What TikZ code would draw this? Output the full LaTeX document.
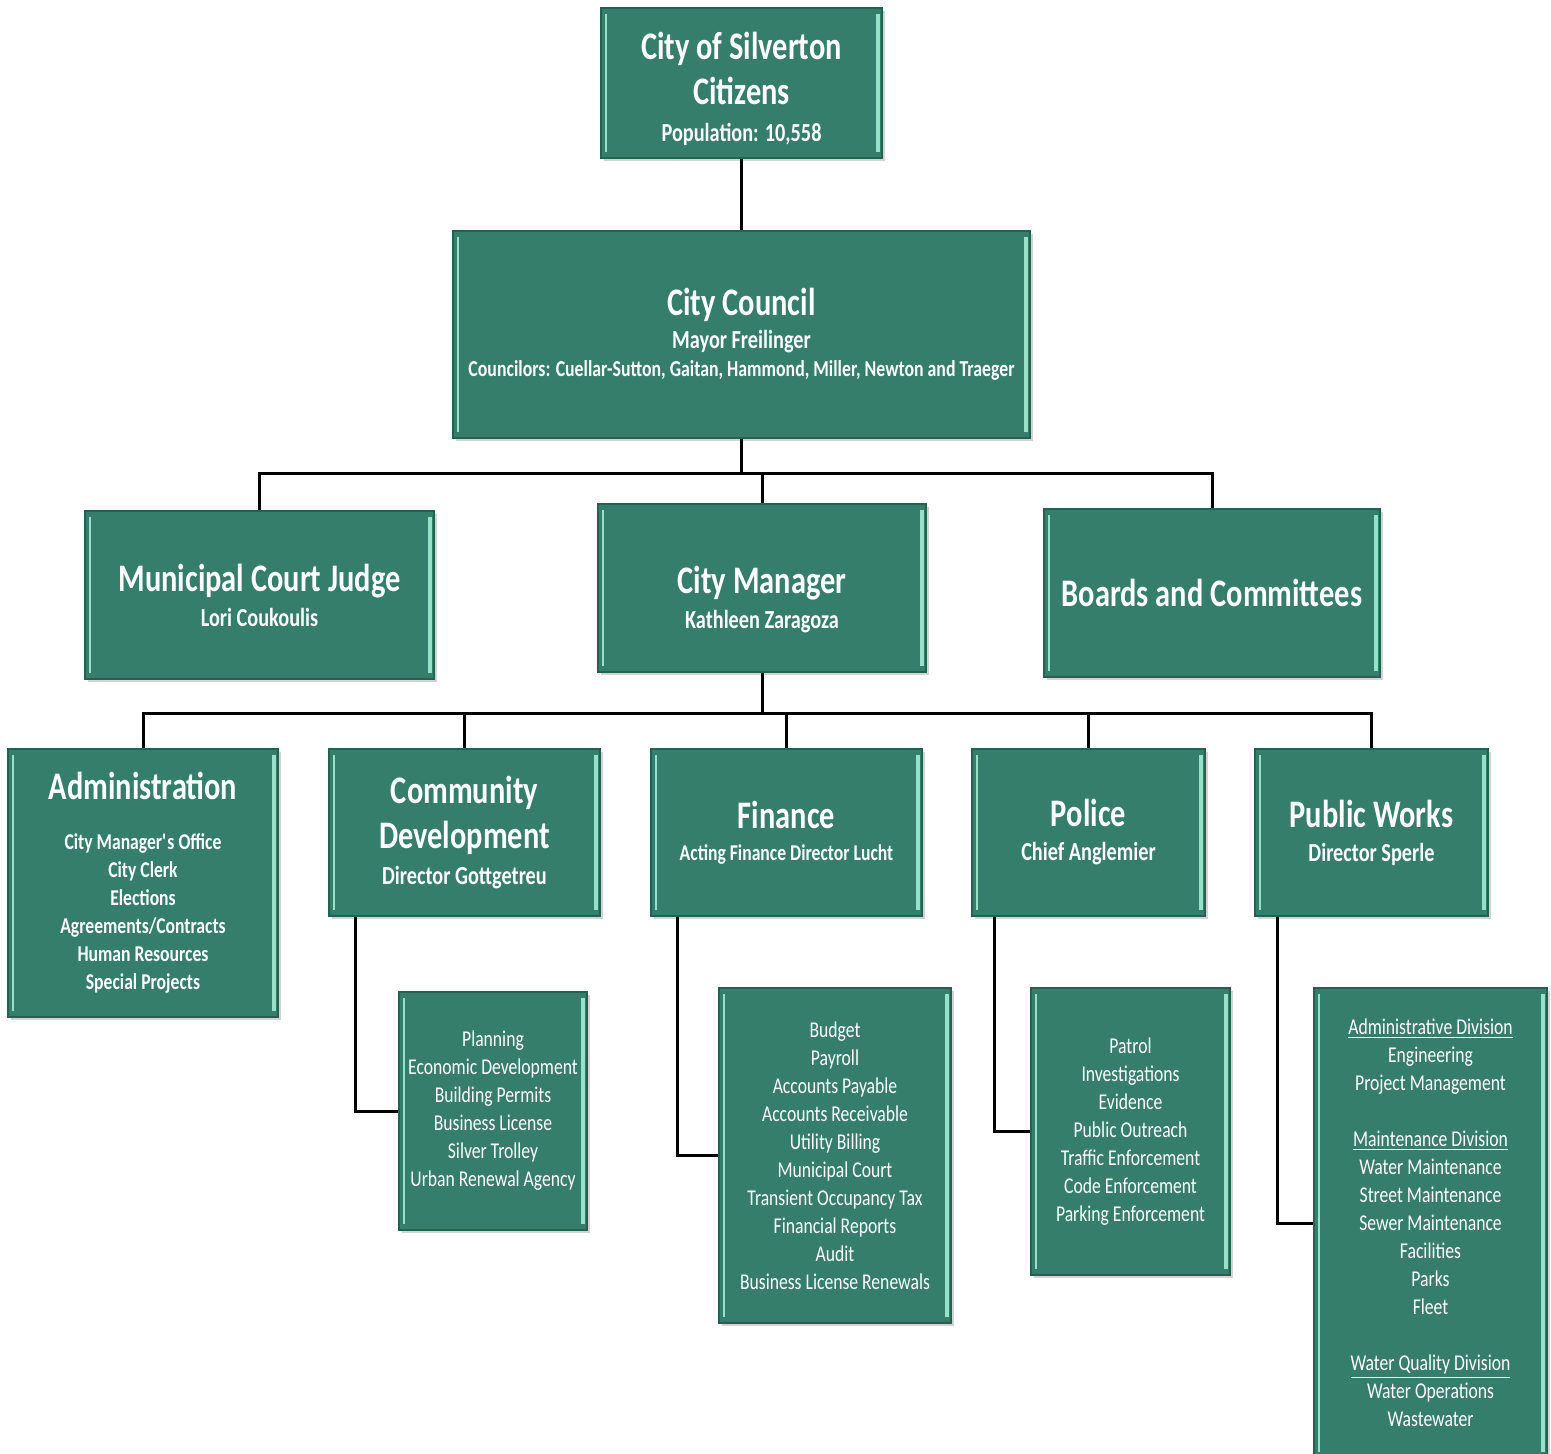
\documentclass[tikz,border=0pt]{standalone}
\usepackage{fontspec}
\setmainfont{Carlito}[FakeStretch=0.78]
\usetikzlibrary{shadows}

\definecolor{boxgreen}{RGB}{53,126,107}
\definecolor{boxedge}{RGB}{38,96,80}
\definecolor{bevel}{RGB}{150,226,201}

\newcommand{\orgtitle}{\fontsize{19.5}{22.5}\selectfont}
\newcommand{\orgsub}{\fontsize{13}{16}\selectfont}
\newcommand{\orglist}{\fontsize{11.3}{14}\selectfont}

\tikzset{
  orgbox/.style={rectangle, fill=boxgreen, draw=boxedge, line width=0.8pt,
    text=white, align=center, inner sep=0pt,
    drop shadow={shadow xshift=1.5pt, shadow yshift=-1.5pt, opacity=0.35},
    path picture={
      \draw[bevel, line width=1pt] ([xshift=2.5pt,yshift=-3pt]path picture bounding box.north west)
        -- ([xshift=2.5pt,yshift=3pt]path picture bounding box.south west);
      \draw[bevel, line width=2pt] ([xshift=-2pt,yshift=-3pt]path picture bounding box.north east)
        -- ([xshift=-2pt,yshift=3pt]path picture bounding box.south east);
    }},
  bus/.style={to path={-- ++(0,-#1) -| (\tikztotarget.north)}},
  branch/.style={to path={|- (\tikztotarget.west)}}
}

\begin{document}
\begin{tikzpicture}[x=0.5pt,y=-0.5pt]
  \useasboundingbox (0,0) rectangle (1551,1454);
  \begin{scope}[every node/.style={orgbox, font=\bfseries\orgtitle}]
    \node[minimum width=140.5pt, minimum height=75pt] (citizens) at (741.5,83)
      {\rule{0pt}{20pt}City of Silverton\\Citizens\\[-4pt]{\orgsub Population: 10,558}};
    \node[minimum width=288.5pt, minimum height=103.5pt] (council) at (741.5,334.5)
      {City Council\\[-6pt]{\orgsub Mayor Freilinger}\\[-8.5pt]{\fontsize{11.4}{14}\selectfont Councilors: Cuellar-Sutton, Gaitan, Hammond, Miller, Newton and Traeger}};
    \node[minimum width=174.5pt, minimum height=84pt] (judge) at (259.5,595)
      {Municipal Court Judge\\[-5pt]{\orgsub Lori Coukoulis}};
    \node[minimum width=164pt, minimum height=84pt] (manager) at (762,588)
      {\rule{0pt}{25pt}City Manager\\[-5pt]{\orgsub Kathleen Zaragoza}};
    \node[minimum width=168pt, minimum height=84pt] (boards) at (1212,593)
      {Boards and Committees};
    \node[minimum width=135pt, minimum height=134pt, font=\bfseries\orglist] (admin) at (143,883)
      {{\orgtitle Administration}\\[11pt]City Manager\textquotesingle s Office\\City Clerk\\Elections\\Agreements/Contracts\\Human Resources\\Special Projects};
    \node[minimum width=135.5pt, minimum height=83.5pt] (comdev) at (464.5,832.5)
      {Community\\Development\\[-4.5pt]{\orgsub Director Gottgetreu}};
    \node[minimum width=135.5pt, minimum height=83.5pt] (finance) at (786.5,832.5)
      {Finance\\[-6.5pt]{\fontsize{11.3}{14}\selectfont Acting Finance Director Lucht}};
    \node[minimum width=116.5pt, minimum height=83.5pt] (police) at (1088.5,832.5)
      {Police\\[-5.5pt]{\orgsub Chief Anglemier}};
    \node[minimum width=116.5pt, minimum height=83.5pt] (works) at (1371.5,832.5)
      {Public Works\\[-5.5pt]{\orgsub Director Sperle}};
  \end{scope}
  \begin{scope}[every node/.style={orgbox, font=\orglist}]
    \node[minimum width=94pt, minimum height=119pt] (comdevsub) at (493,1111)
      {Planning\\Economic Development\\Building Permits\\Business License\\Silver Trolley\\Urban Renewal Agency};
    \node[minimum width=116pt, minimum height=167.5pt] (financesub) at (835,1155.5)
      {Budget\\Payroll\\Accounts Payable\\Accounts Receivable\\Utility Billing\\Municipal Court\\Transient Occupancy Tax\\Financial Reports\\Audit\\Business License Renewals};
    \node[minimum width=99.5pt, minimum height=143.5pt] (policesub) at (1130.5,1131.5)
      {Patrol\\Investigations\\Evidence\\Public Outreach\\Traffic Enforcement\\Code Enforcement\\Parking Enforcement};
    \node[minimum width=116.5pt, minimum height=235pt] (workssub) at (1430.5,1223)
      {\underline{Administrative Division}\\Engineering\\Project Management\\[14pt]\underline{Maintenance Division}\\Water Maintenance\\Street Maintenance\\Sewer Maintenance\\Facilities\\Parks\\Fleet\\[14pt]\underline{Water Quality Division}\\Water Operations\\Wastewater};
  \end{scope}
  \begin{scope}[every edge/.style={draw=black, line width=1.5pt}]
    \path (citizens) edge (council);
    \path (council.south) edge[bus=17.5pt] (judge);
    \path (council.south) edge[bus=17.5pt] (manager);
    \path (council.south) edge[bus=17.5pt] (boards);
    \path (manager.south) edge[bus=20.5pt] (admin);
    \path (manager.south) edge[bus=20.5pt] (comdev);
    \path (manager.south) edge[bus=20.5pt] (finance);
    \path (manager.south) edge[bus=20.5pt] (police);
    \path (manager.south) edge[bus=20.5pt] (works);
    \path ([xshift=13.5pt]comdev.south west) edge[branch] (comdevsub);
    \path ([xshift=13.5pt]finance.south west) edge[branch] (financesub);
    \path ([xshift=11.5pt]police.south west) edge[branch] (policesub);
    \path ([xshift=11.5pt]works.south west) edge[branch] (workssub);
  \end{scope}
\end{tikzpicture}
\end{document}
